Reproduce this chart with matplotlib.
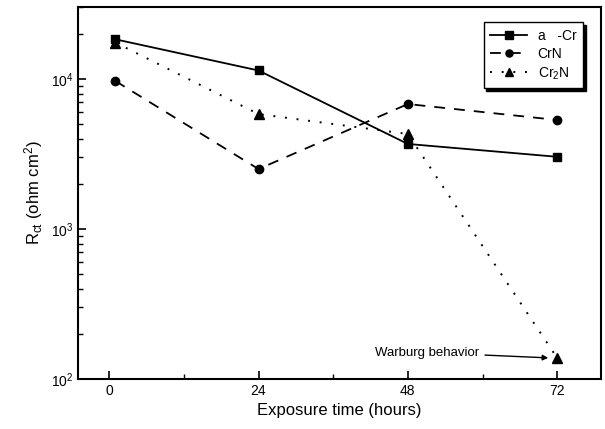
import matplotlib
matplotlib.use("Agg")
import matplotlib.pyplot as plt
from matplotlib.ticker import FixedLocator, LogLocator, NullFormatter

plt.rcParams['font.family'] = ['Liberation Sans', 'DejaVu Sans']
plt.rcParams['mathtext.default'] = 'regular'

hours = [1, 24, 48, 72]
acr = [18400, 11400, 3690, 3030]
crn = [9700, 2510, 6810, 5330]
cr2n = [17500, 5840, 4300, 138]
labels = ["a   -Cr", "CrN", "Cr$_2$N"]
xticks = [0, 24, 48, 72]

fig = plt.figure(figsize=(6.05, 4.29), dpi=100)
ax = fig.add_axes([0.129, 0.1166, 0.864, 0.866])

ax.plot(hours, acr, color='black', lw=1.3, ls='-', marker='s', ms=6, label=labels[0])
ax.plot(hours, crn, color='black', lw=1.3, ls=(0, (6, 5)), marker='o', ms=6, label=labels[1])
ax.plot(hours, cr2n, color='black', lw=1.4, ls=(0, (1, 5)), marker='^', ms=7, label=labels[2])

ax.set_yscale('log')
ax.set_ylim(100, 30000)
ax.set_xlim(-5, 79)
ax.set_xticks(xticks)
ax.xaxis.set_minor_locator(FixedLocator([12, 36, 60]))
ax.yaxis.set_minor_locator(LogLocator(base=10, subs=range(2, 10)))
ax.yaxis.set_minor_formatter(NullFormatter())
ax.tick_params(which='both', direction='in', labelsize=10)
ax.tick_params(which='major', length=6, width=1.2)
ax.tick_params(which='minor', length=3.5, width=1.0)
for s in ax.spines.values():
    s.set_linewidth(1.5)

ax.set_xlabel("Exposure time (hours)", fontsize=12)
ax.set_ylabel("R$_{ct}$ (ohm cm$^2$)", fontsize=12)

ax.annotate("Warburg behavior", xy=(71, 138), xytext=(59.5, 150),
            fontsize=9.5, ha='right', va='center',
            arrowprops=dict(arrowstyle='-|>', color='black', lw=1.0,
                            mutation_scale=8, shrinkA=2, shrinkB=2))

leg = ax.legend(loc='upper right', bbox_to_anchor=(0.98, 0.98), fontsize=10,
                frameon=True, fancybox=False,
                shadow={'color': 'black', 'alpha': 1.0, 'ox': 2, 'oy': -2},
                edgecolor='black', markerscale=0.85,
                handlelength=2.6, borderpad=0.5, labelspacing=0.3)
leg.get_frame().set_linewidth(1.0)

fig.savefig("out.png", dpi=100)
